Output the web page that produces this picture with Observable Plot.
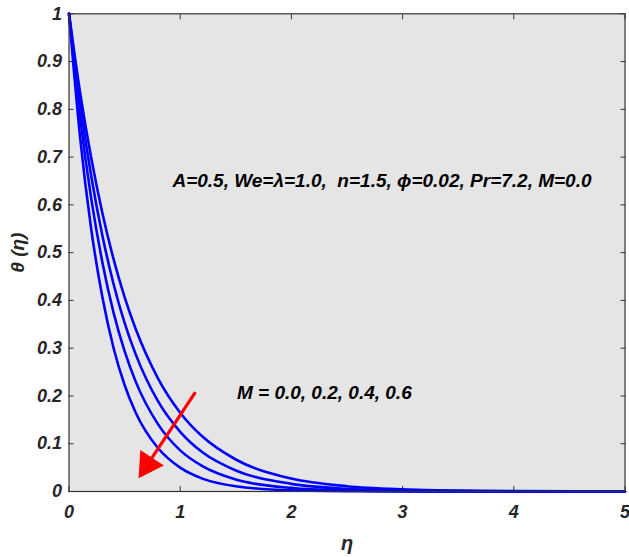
<!DOCTYPE html>
<html><head><meta charset="utf-8">
<script src="https://cdn.jsdelivr.net/npm/d3@7"></script>
<script src="https://cdn.jsdelivr.net/npm/@observablehq/plot@0.6"></script>
<style>
html,body{margin:0;padding:0;background:#fff;}
</style>
</head><body>
<div id="chart"></div>
<script>
const eta = [0, 0.1, 0.2, 0.3, 0.4, 0.5, 0.6, 0.8, 1.0, 1.2, 1.5, 2.0, 2.5, 3.0, 3.5, 4.0, 5.0];
const mValues = ["0.0", "0.2", "0.4", "0.6"];
const thetaM00 = [1, 0.835, 0.698, 0.583, 0.487, 0.407, 0.340, 0.237, 0.165, 0.115, 0.067, 0.027, 0.011, 0.0045, 0.0018, 0.0007, 0.0001];
const thetaM02 = [1, 0.812, 0.660, 0.536, 0.435, 0.353, 0.287, 0.189, 0.125, 0.082, 0.044, 0.016, 0.0055, 0.0019, 0.0007, 0.0002, 0];
const thetaM04 = [1, 0.783, 0.613, 0.480, 0.375, 0.294, 0.230, 0.141, 0.086, 0.053, 0.025, 0.0074, 0.0022, 0.0006, 0.0002, 0.0001, 0];
const thetaM06 = [1, 0.741, 0.549, 0.407, 0.301, 0.223, 0.165, 0.091, 0.050, 0.027, 0.011, 0.0025, 0.0006, 0.0001, 0, 0, 0];
const xTicks = [0, 1, 2, 3, 4, 5];
const yTicks = [0, 0.1, 0.2, 0.3, 0.4, 0.5, 0.6, 0.7, 0.8, 0.9, 1];
const paramText = "A=0.5, We=\u03bb=1.0,  n=1.5, \u03d5=0.02, Pr=7.2, M=0.0";
const paramPos = [0.93, 0.65];
const mText = "M = 0.0, 0.2, 0.4, 0.6";
const mPos = [1.51, 0.207];
const arrowStart = [1.137, 0.208];
const arrowEnd = [0.667, 0.0425];

const series = [thetaM00, thetaM02, thetaM04, thetaM06];
const rows = [];
series.forEach((s, i) => s.forEach((v, j) => rows.push({eta: eta[j], theta: v, M: mValues[i]})));

const font = "Liberation Sans, Arial, sans-serif";
const tx = arrowEnd[0] - arrowStart[0], ty = arrowEnd[1] - arrowStart[1];
const sx = tx * 111.2, sy = -ty * 477.7;
const ang = Math.atan2(sx, -sy) * 180 / Math.PI;
const len = Math.hypot(sx, sy);
const headPos = [arrowEnd[0] - tx * 8 / len, arrowEnd[1] - ty * 8 / len];
const shaftEnd = [arrowEnd[0] - tx * 15 / len, arrowEnd[1] - ty * 15 / len];

const chart = Plot.plot({
  width: 629,
  height: 557,
  marginLeft: 68.5,
  marginRight: 4.5,
  marginTop: 13.3,
  marginBottom: 66,
  style: {fontFamily: font, background: "#fff", overflow: "visible"},
  x: {domain: [0, 5], axis: null},
  y: {domain: [0, 1], axis: null},
  marks: [
    Plot.frame({fill: "#e5e5e5", stroke: "none"}),
    Plot.axisX(xTicks, {anchor: "bottom", label: null, tickSize: -5, tickPadding: 19, stroke: "#333", fontSize: 18, fontWeight: "bold", fontStyle: "italic", fill: "#262626", tickFormat: d => String(d)}),
    Plot.axisX(xTicks, {anchor: "top", label: null, tickSize: -5, stroke: "#333", tickFormat: () => ""}),
    Plot.axisY(yTicks, {anchor: "left", label: null, tickSize: -5, tickPadding: 12, stroke: "#333", fontSize: 18, fontWeight: "bold", fontStyle: "italic", fill: "#262626", tickFormat: d => String(d)}),
    Plot.axisY(yTicks, {anchor: "right", label: null, tickSize: -5, stroke: "#333", tickFormat: () => ""}),
    Plot.lineY(rows, {x: "eta", y: "theta", z: "M", stroke: "#0000ff", strokeWidth: 2.6, curve: "monotone-x"}),
    Plot.link([0], {x1: () => arrowStart[0], y1: () => arrowStart[1], x2: () => shaftEnd[0], y2: () => shaftEnd[1], stroke: "#ff0000", strokeWidth: 3.2}),
    Plot.dot([0], {x: () => headPos[0], y: () => headPos[1], symbol: "triangle", r: 10.5, fill: "#ff0000", stroke: "none", rotate: ang}),
    Plot.text([paramText], {x: () => paramPos[0], y: () => paramPos[1], text: d => d, textAnchor: "start", fontSize: 19, fontWeight: "bold", fontStyle: "italic", fill: "#000"}),
    Plot.text([mText], {x: () => mPos[0], y: () => mPos[1], text: d => d, textAnchor: "start", fontSize: 19, fontWeight: "bold", fontStyle: "italic", fill: "#000"}),
    Plot.frame({stroke: "#333", strokeWidth: 1.2}),
    Plot.text(["\u03b7"], {frameAnchor: "bottom", dy: 58, text: d => d, fontSize: 20, fontWeight: "bold", fontStyle: "italic", fill: "#262626"}),
    Plot.text(["\u03b8 (\u03b7)"], {frameAnchor: "left", dx: -51, rotate: -90, textAnchor: "middle", text: d => d, fontSize: 19, fontWeight: "bold", fontStyle: "italic", fill: "#262626"})
  ]
});
document.getElementById("chart").appendChild(chart);
</script>
</body></html>
